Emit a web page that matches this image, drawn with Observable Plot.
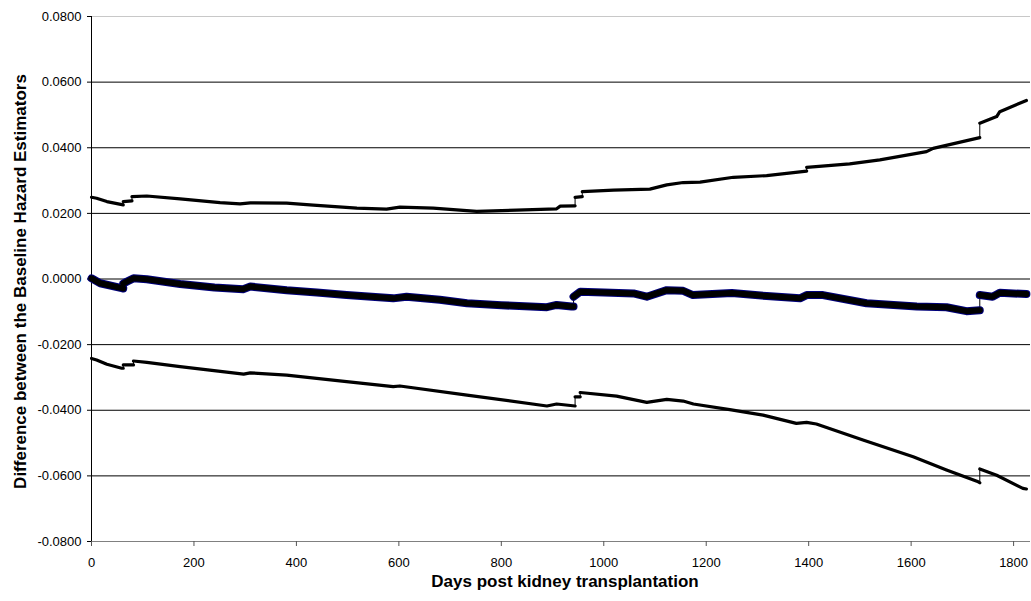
<!DOCTYPE html>
<html><head><meta charset="utf-8">
<script src="https://cdn.jsdelivr.net/npm/d3@7"></script>
<script src="https://cdn.jsdelivr.net/npm/@observablehq/plot@0.6"></script>
<style>html,body{margin:0;padding:0;background:#fff}svg{display:block}</style>
</head><body><div id="chart"></div>
<script>
const xTitle = "Days post kidney transplantation";
const yTitle = "Difference between the Baseline Hazard Estimators";
const xTicks = [0, 200, 400, 600, 800, 1000, 1200, 1400, 1600, 1800];
const yTicks = [-0.08, -0.06, -0.04, -0.02, 0, 0.02, 0.04, 0.06, 0.08];

// Upper confidence bound
const upperDays = [0,0,10,30,62,62,79,79,108,173,251,290,310,381,433,518,576,602,667,752,830,908,915,944,944,958,958,1019,1090,1123,1155,1188,1253,1318,1396,1396,1480,1539,1630,1643,1734,1734,1767,1773,1825];
const upperVals = [0,0.0249,0.0246,0.0236,0.0226,0.0236,0.0238,0.0251,0.0253,0.0244,0.0233,0.0229,0.0232,0.0231,0.0225,0.0216,0.0213,0.0219,0.0216,0.0206,0.0210,0.0214,0.0222,0.0223,0.0249,0.0251,0.0266,0.0271,0.0274,0.0287,0.0294,0.0295,0.0310,0.0315,0.0329,0.0340,0.0351,0.0363,0.0388,0.0398,0.0431,0.0475,0.0495,0.0510,0.0544];

// Difference estimate
const midDays = [0,17,59,62,62,69,82,108,173,240,296,310,381,440,498,589,615,680,733,800,889,908,937,941,941,954,1000,1058,1084,1123,1155,1174,1250,1318,1383,1396,1428,1513,1611,1669,1708,1734,1734,1759,1773,1825];
const midVals = [0.0002,-0.0013,-0.0028,-0.0029,-0.0014,-0.0008,0.0002,-0.0001,-0.0015,-0.0026,-0.0031,-0.0023,-0.0034,-0.0041,-0.0049,-0.0059,-0.0054,-0.0063,-0.0074,-0.0080,-0.0086,-0.0079,-0.0084,-0.0084,-0.0054,-0.0039,-0.0041,-0.0044,-0.0054,-0.0034,-0.0036,-0.0049,-0.0043,-0.0052,-0.0059,-0.0049,-0.0049,-0.0074,-0.0084,-0.0086,-0.0098,-0.0095,-0.0049,-0.0054,-0.0042,-0.0046];

// Lower confidence bound
const lowerDays = [0,0,10,30,59,62,62,82,82,108,173,297,310,381,498,589,602,733,889,908,944,944,954,954,1025,1084,1123,1155,1175,1246,1311,1376,1396,1415,1506,1604,1669,1731,1734,1734,1767,1818,1825];
const lowerVals = [0,-0.0242,-0.0247,-0.0260,-0.0272,-0.0272,-0.0262,-0.0262,-0.0250,-0.0254,-0.0267,-0.0290,-0.0286,-0.0293,-0.0313,-0.0328,-0.0326,-0.0354,-0.0387,-0.0381,-0.0387,-0.0359,-0.0359,-0.0346,-0.0357,-0.0376,-0.0367,-0.0372,-0.0381,-0.0398,-0.0415,-0.0440,-0.0437,-0.0442,-0.0491,-0.0542,-0.0582,-0.0618,-0.0621,-0.0579,-0.0598,-0.0638,-0.0640];

function toRows(days, vals, name) {
  let seg = 0;
  return days.map((d, i) => {
    if (i > 0 && d === days[i - 1]) seg++;
    return {day: d, value: vals[i], seg: name + seg};
  });
}
const upper = toRows(upperDays, upperVals, "u");
const mid = toRows(midDays, midVals, "m");
const lower = toRows(lowerDays, lowerVals, "l");

const font = "'Liberation Sans', Arial, sans-serif";
const chart = Plot.plot({
  width: 1031,
  height: 601,
  marginLeft: 91,
  marginRight: 1,
  marginTop: 16,
  marginBottom: 60,
  style: {fontFamily: font, fontSize: "13px", color: "#000", background: "#fff"},
  x: {domain: [0, 1833], axis: null},
  y: {domain: [-0.08, 0.08], axis: null},
  marks: [
    Plot.ruleY(yTicks.filter(v => Math.abs(v) < 0.07), {stroke: "#000", strokeWidth: 1}),
    Plot.ruleY([0.08], {stroke: "#c8c8c8", strokeWidth: 1}),
    Plot.ruleY([-0.08], {stroke: "#808080", strokeWidth: 1}),
    Plot.ruleX([0], {stroke: "#000", strokeWidth: 1}),
    Plot.axisY({ticks: yTicks, tickFormat: d => d.toFixed(4), tickSize: 4, tickPadding: 6, fontSize: 13, label: null, stroke: "#000"}),
    Plot.axisX({ticks: xTicks, tickFormat: d => String(d), tickSize: 5, tickPadding: 11, fontSize: 13, label: null, stroke: "#555"}),
    // thin connectors
    Plot.line(upper, {x: "day", y: "value", stroke: "#000", strokeWidth: 1}),
    Plot.line(lower, {x: "day", y: "value", stroke: "#000", strokeWidth: 1}),
    Plot.line(mid, {x: "day", y: "value", stroke: "#000", strokeWidth: 1}),
    // thick marker runs
    Plot.line(upper, {x: "day", y: "value", z: "seg", stroke: "#000", strokeWidth: 3.2}),
    Plot.line(lower, {x: "day", y: "value", z: "seg", stroke: "#000", strokeWidth: 3.2}),
    Plot.line(mid, {x: "day", y: "value", z: "seg", stroke: "#00007a", strokeWidth: 8}),
    Plot.line(mid, {x: "day", y: "value", z: "seg", stroke: "#000", strokeWidth: 6}),
    Plot.text([xTitle], {text: d => d, frameAnchor: "bottom", dx: 4, dy: 45.5, fontWeight: "bold", fontSize: 17, fill: "#000"}),
    Plot.text([yTitle], {text: d => d, frameAnchor: "left", textAnchor: "middle", dx: -71.4, dy: 2.5, rotate: -90, fontWeight: "bold", fontSize: 17, fill: "#000"})
  ]
});
document.getElementById("chart").append(chart);
</script>
</body></html>
